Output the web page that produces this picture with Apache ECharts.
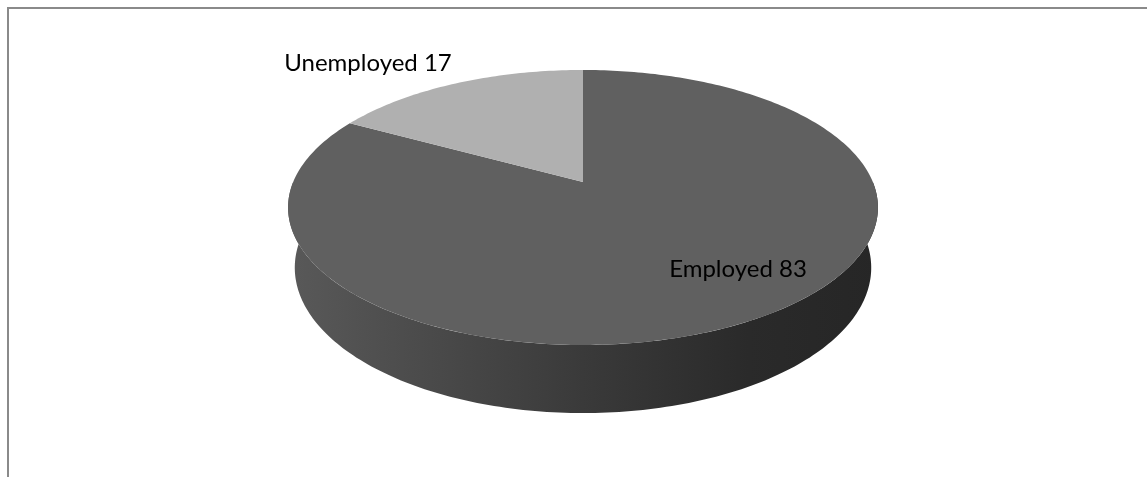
<!DOCTYPE html>
<html>
<head>
<meta charset="utf-8">
<script src="https://cdn.jsdelivr.net/npm/echarts@6/dist/echarts.min.js"></script>
<style>
  html, body { margin: 0; padding: 0; background: #ffffff; }
  #chart { width: 1147px; height: 477px; }
</style>
</head>
<body>
<div id="chart"></div>
<script>
// Labour force split
const categories = ['Employed', 'Unemployed'];
const values = [83, 17];

// Slice styling
const topColors = ['#606060', '#b0b0b0'];
const sideStops = [
  { offset: 0, color: '#595959' },
  { offset: 0.5, color: '#3a3a3a' },
  { offset: 0.78, color: '#2a2a2a' },
  { offset: 1, color: '#262626' }
];
// Label anchors (centre of each label)
const labelAnchors = [[738, 269], [368, 63]];

// Perspective view of the tilted disc
const VIEW = {
  cx: 583, cy: 182,
  focal: 1390, dist: 4.796,
  tilt: 27.27 * Math.PI / 180,
  depth: 0.2354
};

function project(theta, r, y) {
  const s = Math.sin(VIEW.tilt), c = Math.cos(VIEW.tilt);
  const px = r * Math.sin(theta);
  const pz = -r * Math.cos(theta);
  const D = VIEW.dist - y * s - pz * c;
  return [VIEW.cx + VIEW.focal * px / D, VIEW.cy - VIEW.focal * (y * c - pz * s) / D];
}

function arc(a0, a1, y) {
  const pts = [];
  const n = Math.max(2, Math.ceil(Math.abs(a1 - a0) / (Math.PI / 180)));
  for (let i = 0; i <= n; i++) {
    pts.push(project(a0 + (a1 - a0) * i / n, 1, y));
  }
  return pts;
}

const total = values.reduce((a, b) => a + b, 0);

function renderItem(params, api) {
  const idx = params.dataIndex;
  const value = api.value(0);
  let before = 0;
  for (let i = 0; i < idx; i++) before += values[i];
  const a0 = before / total * Math.PI * 2;
  const a1 = (before + value) / total * Math.PI * 2;
  const children = [];

  // front wall (only the part facing the viewer)
  const lo = Math.max(a0, Math.PI / 2);
  const hi = Math.min(a1, Math.PI * 3 / 2);
  if (hi > lo) {
    const sidePts = arc(lo, hi, 0).concat(arc(hi, lo, -VIEW.depth));
    children.push({
      type: 'polygon',
      z2: 1,
      shape: { points: sidePts },
      style: { fill: new echarts.graphic.LinearGradient(0, 0, 1, 0, sideStops) }
    });
  }

  // top face
  const topPts = [project(0, 0, 0)].concat(arc(a0, a1, 0));
  children.push({
    type: 'polygon',
    z2: 10,
    shape: { points: topPts },
    style: { fill: topColors[idx % topColors.length] }
  });

  // label
  const pos = labelAnchors[idx];
  children.push({
    type: 'text',
    z2: 20,
    x: pos[0], y: pos[1],
    style: {
      text: categories[idx] + ' ' + value,
      fill: '#000000',
      font: '24px Lato, "Open Sans", sans-serif',
      align: 'center',
      verticalAlign: 'middle'
    }
  });

  return { type: 'group', children: children };
}

const chart = echarts.init(document.getElementById('chart'), null, { renderer: 'canvas' });
chart.setOption({
  animation: false,
  backgroundColor: '#ffffff',
  graphic: [{
    type: 'polyline',
    shape: { points: [[8, 477], [8, 8], [1147, 8]] },
    style: { stroke: '#8a8a8a', lineWidth: 2, fill: null }
  }],
  series: [{
    type: 'custom',
    coordinateSystem: 'none',
    renderItem: renderItem,
    data: values.map((v, i) => ({ name: categories[i], value: v }))
  }]
});
</script>
</body>
</html>
